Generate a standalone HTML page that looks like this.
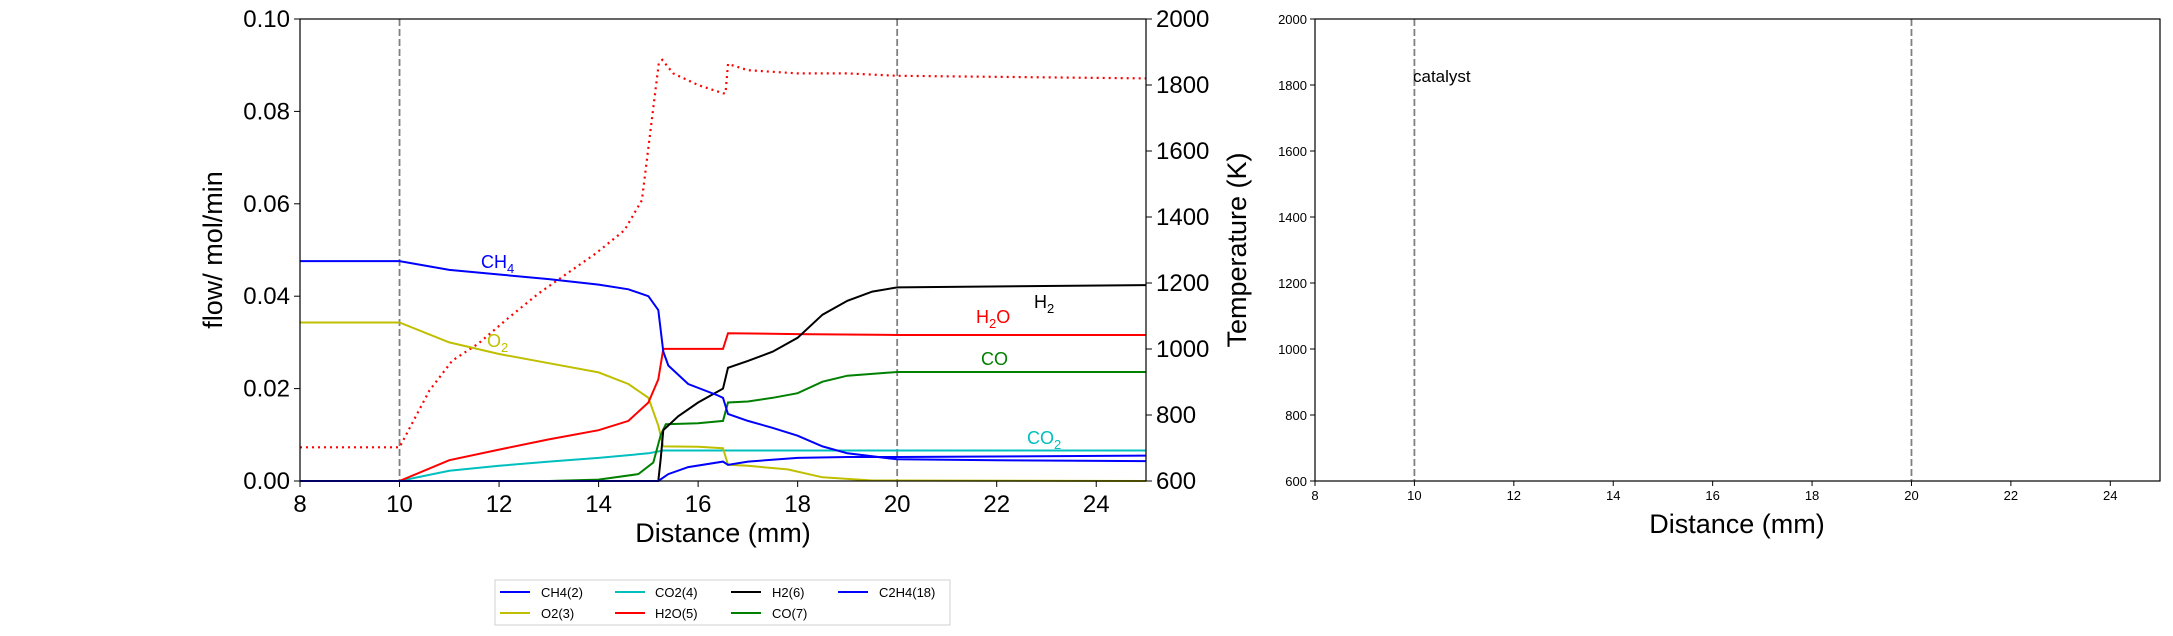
<!DOCTYPE html>
<html><head><meta charset="utf-8"><style>
html,body{margin:0;padding:0;background:#fff;}
svg{display:block;font-family:"Liberation Sans","DejaVu Sans",sans-serif;}
</style></head><body>
<svg id="chart" width="2173" height="636" viewBox="0 0 2173 636" xmlns="http://www.w3.org/2000/svg">
<g id="left"></g>
<g id="right"></g>
</svg>
<script>
const xTicks=[8,10,12,14,16,18,20,22,24];
const flowTicks=[0,0.02,0.04,0.06,0.08,0.10];
const flowTickLabels=["0.00","0.02","0.04","0.06","0.08","0.10"];
const tempTicks=[600,800,1000,1200,1400,1600,1800,2000];
const catalystBounds=[10,20];
const ch4X=[8,10,11,12,13,14,14.6,15,15.2,15.3,15.4,15.8,16.4,16.5,16.6,17,17.5,18,18.5,19,20,22,25];
const ch4Y=[0.0476,0.0476,0.0457,0.0447,0.0437,0.0425,0.0415,0.040,0.037,0.028,0.025,0.021,0.0185,0.018,0.0145,0.013,0.0115,0.0098,0.0075,0.006,0.0047,0.0045,0.0043];
const o2X=[8,10,11,12,13,14,14.6,15,15.2,15.3,16,16.5,16.6,17,17.8,18.5,19.5,25];
const o2Y=[0.0343,0.0343,0.030,0.0275,0.0255,0.0235,0.021,0.018,0.012,0.0075,0.0074,0.0071,0.0035,0.0033,0.0025,0.0008,0.0001,0];
const co2X=[8,10,11,12,13,14,15,15.3,25];
const co2Y=[0,0,0.0022,0.0033,0.0042,0.005,0.006,0.0066,0.0066];
const h2oX=[8,10,11,12,13,14,14.6,15,15.2,15.3,16.5,16.6,18,20,25];
const h2oY=[0,0,0.0045,0.0068,0.009,0.011,0.013,0.017,0.022,0.0286,0.0286,0.032,0.0318,0.0316,0.0316];
const h2X=[8,15.2,15.25,15.3,15.6,16,16.5,16.6,17,17.5,18,18.5,19,19.5,20,25];
const h2Y=[0,0,0.005,0.011,0.014,0.017,0.020,0.0245,0.026,0.028,0.031,0.036,0.039,0.041,0.0419,0.0424];
const coX=[8,13,14,14.8,15.1,15.25,15.35,16,16.5,16.6,17,17.5,18,18.5,19,20,25];
const coY=[0,0,0.0003,0.0015,0.004,0.010,0.0123,0.0125,0.013,0.017,0.0172,0.018,0.019,0.0215,0.0228,0.0236,0.0236];
const c2h4X=[8,15.2,15.4,15.8,16.5,16.6,17,18,19,20,25];
const c2h4Y=[0,0,0.0015,0.003,0.0042,0.0035,0.0042,0.005,0.0052,0.0052,0.0055];
const tX=[8,10,10.6,11.06,11.58,12.21,12.79,13.37,13.94,14.52,14.87,15.21,15.28,15.5,16,16.5,16.55,16.6,17,18,19,20,25];
const tY=[702,702,874,965,1016,1097,1168,1229,1289,1360,1451,1866,1876,1835,1800,1775,1775,1864,1845,1835,1835,1828,1820];

const NS="http://www.w3.org/2000/svg";
const L={x0:300,x1:1146,y0:19,y1:481};
const R={x0:1315,x1:2160,y0:19,y1:481};
function xs(P,v){return P.x0+(v-8)/(25-8)*(P.x1-P.x0);}
function yf(v){return L.y1-(v-0)/(0.1)*(L.y1-L.y0);}
function yt(P,v){return P.y1-(v-600)/1400*(P.y1-P.y0);}
function mk(parent,tag,attrs,text){const e=document.createElementNS(NS,tag);for(const k in attrs)e.setAttribute(k,attrs[k]);if(text!==undefined)e.textContent=text;parent.appendChild(e);return e;}
const gl=document.getElementById('left'), gr=document.getElementById('right');

// catalyst lines
[[L,gl],[R,gr]].forEach(([P,g])=>{catalystBounds.forEach(b=>{const e=mk(g,'line',{x1:xs(P,b),x2:xs(P,b),y1:P.y0,y2:P.y1,stroke:'#808080','stroke-width':1.8,'stroke-dasharray':'7,3'});

});});

function series(x,y,color,name,fn,dash){let d='';for(let i=0;i<x.length;i++){d+=(i?'L':'M')+xs(L,x[i]).toFixed(1)+','+fn(y[i]).toFixed(1);}
const a={d:d,fill:'none',stroke:color,'stroke-width':dash?2.2:2};if(dash)a['stroke-dasharray']='2,4';
const e=mk(gl,'path',a);

}
series(tX,tY,'#ff0000','temperature-line',v=>yt(L,v),true);
series(co2X,co2Y,'#00bfbf','co2-line',yf);
series(o2X,o2Y,'#bfbf00','o2-line',yf);
series(h2oX,h2oY,'#ff0000','h2o-line',yf);
series(coX,coY,'#008000','co-line',yf);
series(h2X,h2Y,'#000000','h2-line',yf);
series(c2h4X,c2h4Y,'#0000ff','c2h4-line',yf);
series(ch4X,ch4Y,'#0000ff','ch4-line',yf);

// frames
[[L,gl],[R,gr]].forEach(([P,g])=>{const e=mk(g,'rect',{x:P.x0,y:P.y0,width:P.x1-P.x0,height:P.y1-P.y0,fill:'none',stroke:'#000','stroke-width':1.2});

});

// left ticks
xTicks.forEach(t=>{const x=xs(L,t);mk(gl,'line',{x1:x,x2:x,y1:L.y1,y2:L.y1+6,stroke:'#000'});
const e=mk(gl,'text',{x:x,y:L.y1+31,'font-size':24,'text-anchor':'middle'},String(t));

});
flowTicks.forEach((t,i)=>{const y=yf(t);mk(gl,'line',{x1:L.x0-6,x2:L.x0,y1:y,y2:y,stroke:'#000'});
const e=mk(gl,'text',{x:L.x0-10,y:y+8,'font-size':24,'text-anchor':'end'},flowTickLabels[i]);

});
tempTicks.forEach(t=>{const y=yt(L,t);mk(gl,'line',{x1:L.x1,x2:L.x1+6,y1:y,y2:y,stroke:'#000'});
const e=mk(gl,'text',{x:L.x1+10,y:y+8,'font-size':24,'text-anchor':'start'},String(t));

});
// right ticks
xTicks.forEach(t=>{const x=xs(R,t);mk(gr,'line',{x1:x,x2:x,y1:R.y1,y2:R.y1+5,stroke:'#000'});
const e=mk(gr,'text',{x:x,y:R.y1+19,'font-size':13,'text-anchor':'middle'},String(t));

});
tempTicks.forEach(t=>{const y=yt(R,t);mk(gr,'line',{x1:R.x0-5,x2:R.x0,y1:y,y2:y,stroke:'#000'});
const e=mk(gr,'text',{x:R.x0-8,y:y+5,'font-size':13,'text-anchor':'end'},String(t));

});
</script>
<svg style="position:absolute;left:0;top:0" width="2173" height="636">
<g font-family="Liberation Sans, DejaVu Sans, sans-serif">
<text x="723" y="542" font-size="27" text-anchor="middle">Distance (mm)</text>
<text x="1737" y="533" font-size="27" text-anchor="middle">Distance (mm)</text>
<text transform="translate(222,250) rotate(-90)" font-size="27" text-anchor="middle">flow/ mol/min</text>
<text transform="translate(1246,250) rotate(-90)" font-size="27" text-anchor="middle">Temperature (K)</text>
<text x="1413" y="82" font-size="17">catalyst</text>
<text x="481" y="268" font-size="18" fill="#0000ff">CH<tspan font-size="13" dy="5">4</tspan></text>
<text x="487" y="347" font-size="18" fill="#bfbf00">O<tspan font-size="13" dy="5">2</tspan></text>
<text x="976" y="323" font-size="18" fill="#ff0000">H<tspan font-size="13" dy="5">2</tspan><tspan dy="-5">O</tspan></text>
<text x="1034" y="308" font-size="18" fill="#000">H<tspan font-size="13" dy="5">2</tspan></text>
<text x="981" y="365" font-size="18" fill="#008000">CO</text>
<text x="1027" y="444" font-size="18" fill="#00bfbf">CO<tspan font-size="13" dy="5">2</tspan></text>
</g>
<g font-family="Liberation Sans, DejaVu Sans, sans-serif" font-size="13">
<rect x="495" y="580" width="455" height="45" fill="#fff" stroke="#d0d0d0"/>
<line x1="500" x2="530" y1="592" y2="592" stroke="#0000ff" stroke-width="2"/><text x="541" y="597">CH4(2)</text>
<line x1="500" x2="530" y1="613" y2="613" stroke="#bfbf00" stroke-width="2"/><text x="541" y="618">O2(3)</text>
<line x1="615" x2="645" y1="592" y2="592" stroke="#00bfbf" stroke-width="2"/><text x="655" y="597">CO2(4)</text>
<line x1="615" x2="645" y1="613" y2="613" stroke="#ff0000" stroke-width="2"/><text x="655" y="618">H2O(5)</text>
<line x1="731" x2="761" y1="592" y2="592" stroke="#000" stroke-width="2"/><text x="772" y="597">H2(6)</text>
<line x1="731" x2="761" y1="613" y2="613" stroke="#008000" stroke-width="2"/><text x="772" y="618">CO(7)</text>
<line x1="838" x2="868" y1="592" y2="592" stroke="#0000ff" stroke-width="2"/><text x="879" y="597">C2H4(18)</text>
</g>
</svg>
</body></html>
